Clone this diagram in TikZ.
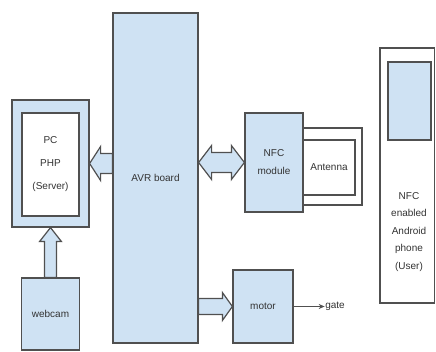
\documentclass[tikz,border=0pt]{standalone}
\usepackage{fontspec}
\setmainfont{Liberation Sans}
\usetikzlibrary{calc,arrows.meta}
\definecolor{boxfill}{RGB}{207,226,243}
\definecolor{boxline}{RGB}{80,80,80}
\newcommand{\blockarrow}[5]{\coordinate (ba-s) at (#1); \coordinate (ba-t) at (#2);
  \coordinate (ba-h) at ($(ba-t)!#5!(ba-s)$);
  \draw[barrow] ($(ba-s)!#3!90:(ba-t)$) -- ($(ba-h)!#3!90:(ba-t)$) -- ($(ba-h)!#4!90:(ba-t)$) -- (ba-t) -- ($(ba-h)!#4!-90:(ba-t)$) -- ($(ba-h)!#3!-90:(ba-t)$) -- ($(ba-s)!#3!-90:(ba-t)$) -- cycle;}
\newcommand{\blockdarrow}[5]{\coordinate (ba-s) at (#1); \coordinate (ba-t) at (#2);
  \coordinate (ba-h) at ($(ba-t)!#5!(ba-s)$); \coordinate (ba-g) at ($(ba-s)!#5!(ba-t)$);
  \draw[barrow] (ba-s) -- ($(ba-g)!#4!90:(ba-t)$) -- ($(ba-g)!#3!90:(ba-t)$) -- ($(ba-h)!#3!90:(ba-t)$) -- ($(ba-h)!#4!90:(ba-t)$) -- (ba-t) -- ($(ba-h)!#4!-90:(ba-t)$) -- ($(ba-h)!#3!-90:(ba-t)$) -- ($(ba-g)!#3!-90:(ba-t)$) -- ($(ba-g)!#4!-90:(ba-t)$) -- cycle;}
\begin{document}
\begin{tikzpicture}[x=1pt, y=-1pt, font=\fontsize{10}{12}\selectfont, every node/.style={draw=boxline, line width=1.2pt, inner sep=0pt, align=center, text=black!80}, blk/.style={fill=boxfill}, wht/.style={fill=white}, barrow/.style={draw=boxline, fill=boxfill, line width=1.2pt, line join=miter}, >={Stealth[length=6pt, width=5pt]}]
\useasboundingbox (0,0) rectangle (436,352);
\node[blk, minimum width=85pt, minimum height=330pt] (avr) at (155.5,178) {AVR board};
\node[blk, minimum width=77pt, minimum height=127pt] (pc) at (50.5,163.5) {};
\node[wht, minimum width=57pt, minimum height=103pt, font=\fontsize{10}{23}\selectfont] (pcin) at (50.5,164.5) {PC\\PHP\\(Server)};
\node[blk, minimum width=58pt, minimum height=72pt] (webcam) at (50.5,314) {webcam};
\node[wht, minimum width=59pt, minimum height=77pt] (antout) at (332.5,166.5) {};
\node[wht, minimum width=52pt, minimum height=55pt] (antenna) at (329,167.5) {Antenna};
\node[blk, minimum width=58pt, minimum height=99pt, font=\fontsize{10}{18}\selectfont] (nfc) at (274,162.5) {NFC\\module};
\node[blk, minimum width=60pt, minimum height=73pt] (motor) at (263,306.5) {motor};
\node[draw=none] (gate) at (335,306.5) {gate};
\node[wht, minimum width=54.5pt, minimum height=255pt] (phone) at (407.25,175.5) {};
\node[blk, minimum width=43pt, minimum height=78pt] (screen) at (409.5,101) {};
\node[draw=none, font=\fontsize{10}{17.5}\selectfont] (user) at (409,232) {NFC\\enabled\\Android\\phone\\(User)};
\blockarrow{avr.west |- pc.east}{pc.east}{10pt}{17pt}{11pt}
\blockarrow{webcam.north}{pc.south}{6pt}{11pt}{14pt}
\blockdarrow{avr.east |- nfc.west}{nfc.west}{10pt}{17pt}{13pt}
\blockarrow{avr.east |- motor.west}{motor.west}{8pt}{14pt}{10pt}
\draw[->, line width=1.2pt, draw=boxline] (motor) -- (gate);
\end{tikzpicture}
\end{document}
